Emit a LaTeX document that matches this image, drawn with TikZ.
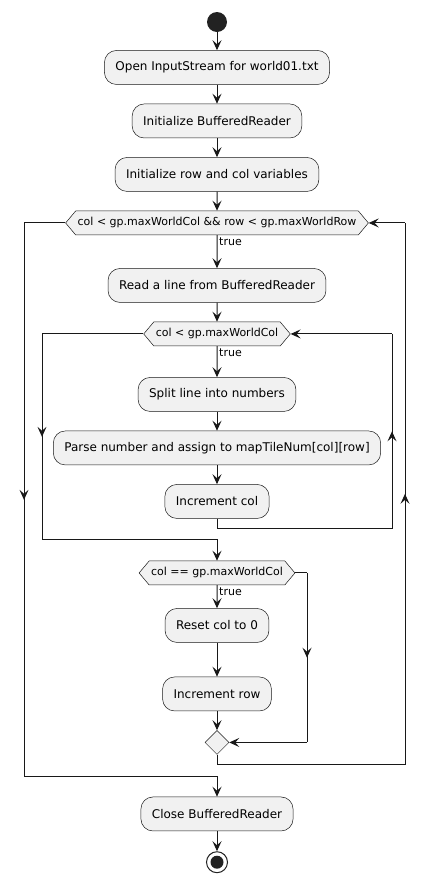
\documentclass[tikz,border=0pt]{standalone}
\usepackage{fontspec}
\setmainfont{DejaVu Sans}
\usetikzlibrary{arrows.meta,positioning,calc,shapes.symbols,shapes.geometric,decorations.markings}
\definecolor{umlfill}{HTML}{F1F1F1}
\definecolor{umlline}{HTML}{181818}
\definecolor{umldot}{HTML}{222222}

\begin{document}
\begin{tikzpicture}[
  x=1pt, y=1pt,
  action/.style={draw=umlline, line width=0.5pt, fill=umlfill, rounded corners=12pt,
                 minimum height=34pt, inner xsep=11pt, font=\fontsize{12}{14}\selectfont},
  cond/.style={signal, signal to=east and west, signal pointer angle=100, draw=umlline,
               line width=0.5pt, fill=umlfill, minimum height=24pt, inner xsep=2pt,
               font=\fontsize{11}{13}\selectfont},
  merge/.style={diamond, draw=umlline, line width=0.5pt, fill=umlfill, minimum size=24pt, inner sep=0pt},
  startnode/.style={circle, fill=umldot, minimum size=20pt, inner sep=0pt},
  endnode/.style={circle, draw=umldot, line width=1pt, fill=white, minimum size=21pt, inner sep=0pt,
                  path picture={\fill[umldot] (path picture bounding box.center) circle (6.5pt);}},
  arrow/.style={-{Stealth[length=10pt, width=9pt, inset=4pt]}, line width=1pt, draw=umlline},
  line/.style={line width=1pt, draw=umlline, color=umlline},
  midarrow/.style={line, postaction={decorate},
                   decoration={markings, mark=at position 0.5 with {\arrow{Stealth[length=10pt, width=9pt, inset=4pt]}}}},
  lbl/.style={font=\fontsize{11}{13}\selectfont, anchor=north west, inner sep=2pt}
]
\useasboundingbox (0,0) rectangle (429,-884);

\node[startnode] (start) at (217,-22) {};
\node[action, below=18pt of start] (open) {Open InputStream for world01.txt};
\node[action, below=19pt of open] (initbr) {Initialize BufferedReader};
\node[action, below=19pt of initbr] (initvars) {Initialize row and col variables};
\node[cond, below=19pt of initvars] (hexa) {col < gp.maxWorldCol \&\& row < gp.maxWorldRow};
\node[action, below=33pt of hexa] (readline) {Read a line from BufferedReader};
\node[cond, below=19pt of readline] (hexb) {col < gp.maxWorldCol};
\node[action, below=31pt of hexb] (split) {Split line into numbers};
\node[action, below=19pt of split] (parse) {Parse number and assign to mapTileNum[col][row]};
\node[action, below=19pt of parse] (inccol) {Increment col};
\node[cond, below=42pt of inccol] (hexc) {col == gp.maxWorldCol};
\node[action, below=23pt of hexc] (reset) {Reset col to 0};
\node[action, below=34pt of reset] (incrow) {Increment row};
\node[merge, below=19pt of incrow] (merge) {};
\node[action, below=42pt of merge] (close) {Close BufferedReader};
\node[endnode, below=20pt of close] (stop) {};

\node[lbl] (truea) at (hexa.south) {true};
\node[lbl] (trueb) at (hexb.south) {true};
\node[lbl] (truec) at (hexc.south) {true};

% rails of the loops
\coordinate (railOL) at (24,0);
\coordinate (railIL) at (42,0);
\coordinate (railM) at (307,0);
\coordinate (railIR) at (392,0);
\coordinate (railOR) at (405,0);
\coordinate (closein) at ($(close.north)+(0,20)$);
\coordinate (hexcin) at ($(hexc.north)+(0,21)$);
\coordinate (mergeout) at ($(merge.south)+(0,-10)$);
\coordinate (incout) at ($(inccol.south)+(0,-10)$);

\draw[arrow] (start) -- (open);
\draw[arrow] (open) -- (initbr);
\draw[arrow] (initbr) -- (initvars);
\draw[arrow] (initvars) -- (hexa);
\draw[arrow] (hexa) -- (readline);
\draw[arrow] (readline) -- (hexb);
\draw[arrow] (hexb) -- (split);
\draw[arrow] (split) -- (parse);
\draw[arrow] (parse) -- (inccol);
\draw[arrow] (hexc) -- (reset);
\draw[arrow] (reset) -- (incrow);
\draw[arrow] (incrow) -- (merge);
\draw[arrow] (close) -- (stop);

% outer loop exit
\draw[line] (hexa.west) -- (hexa.west -| railOL);
\draw[midarrow] (hexa.west -| railOL) -- (railOL |- closein);
\draw[arrow] (railOL |- closein) -- (closein) -- (close.north);
% outer loop back
\draw[line] (merge.south) -- (mergeout) -- (mergeout -| railOR);
\draw[midarrow] (mergeout -| railOR) -- (railOR |- hexa.east);
\draw[arrow] (railOR |- hexa.east) -- (hexa.east);
% inner loop exit
\draw[line] (hexb.west) -- (hexb.west -| railIL);
\draw[midarrow] (hexb.west -| railIL) -- (railIL |- hexcin);
\draw[arrow] (railIL |- hexcin) -- (hexcin) -- (hexc.north);
% inner loop back
\draw[line] (inccol.south) -- (incout) -- (incout -| railIR);
\draw[midarrow] (incout -| railIR) -- (railIR |- hexb.east);
\draw[arrow] (railIR |- hexb.east) -- (hexb.east);
% else branch
\draw[line] (hexc.east) -- (hexc.east -| railM);
\draw[midarrow] (hexc.east -| railM) -- (railM |- merge.east);
\draw[arrow] (railM |- merge.east) -- (merge.east);
\end{tikzpicture}
\end{document}
